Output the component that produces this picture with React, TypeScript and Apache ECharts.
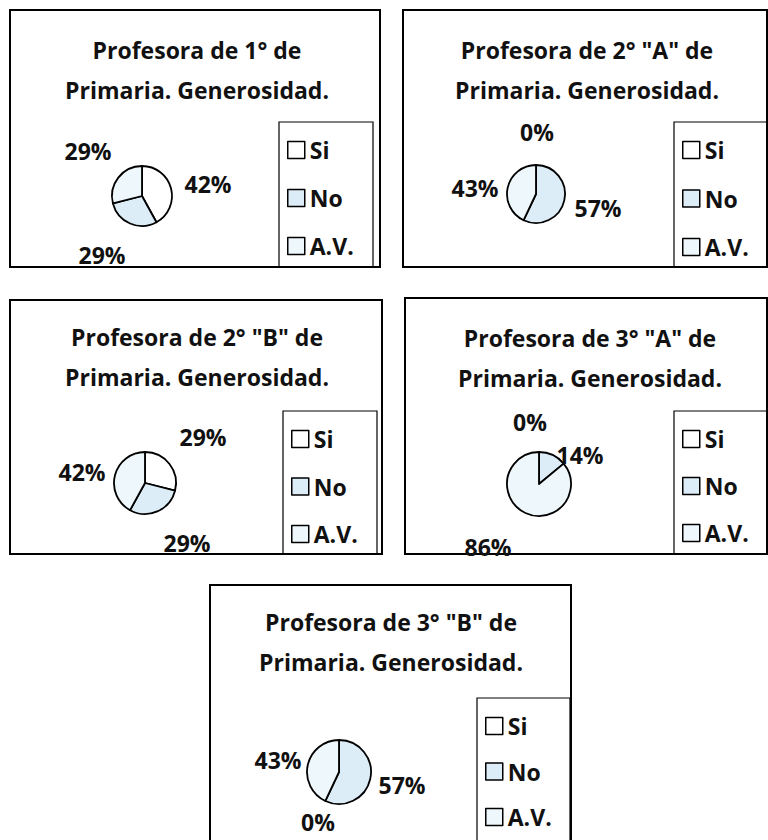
import React, { useEffect, useRef } from 'react';
import * as echarts from 'echarts';

// ---- data ----
const categories = ['Si', 'No', 'A.V.'];
const titles = [
  'Profesora de 1° de\nPrimaria. Generosidad.',
  'Profesora de 2° "A" de\nPrimaria. Generosidad.',
  'Profesora de 2° "B" de\nPrimaria. Generosidad.',
  'Profesora de 3° "A" de\nPrimaria. Generosidad.',
  'Profesora de 3° "B" de\nPrimaria. Generosidad.',
];
const valuesP1 = [42, 29, 29];
const valuesP2 = [0, 57, 43];
const valuesP3 = [29, 29, 42];
const valuesP4 = [0, 14, 86];
const valuesP5 = [0, 57, 43];
const allValues = [valuesP1, valuesP2, valuesP3, valuesP4, valuesP5];

// ---- style / layout ----
const sliceColors = ['#ffffff', '#dcedf7', '#eef7fb'];
const FONT = 'Open Sans';
const FS = 23;

const panels = [
  { box: [10, 10, 370, 257], title: [197, 50], center: [142, 196], r: 30, legend: [279, 122, 94, 145], gap: 25, offs: [[66, -12], [-40, 59], [-54, -45]] },
  { box: [403, 10, 364, 257], title: [587, 50], center: [536, 194], r: 29, legend: [674, 122, 93, 145], gap: 25.5, offs: [[1, -62], [62, 14], [-61, -6]] },
  { box: [10, 300, 372, 254], title: [197, 337], center: [145, 483], r: 31, legend: [283, 411, 94, 143], gap: 24.5, offs: [[58, -46], [42, 60], [-63, -11]] },
  { box: [405, 298, 362, 256], title: [590, 338], center: [539, 484], r: 32, legend: [674, 411, 93, 143], gap: 24, offs: [[-9, -62], [41, -29], [-51, 63]] },
  { box: [210, 585, 361, 270], title: [391, 622], center: [339, 772], r: 32, legend: [477, 698, 93, 160], gap: 22.5, offs: [[-21, 50], [63, 13], [-61, -12]] },
];

function buildOption() {
  const graphic: any[] = [];
  const title: any[] = [];
  const legend: any[] = [];
  const series: any[] = [];
  panels.forEach((p, i) => {
    graphic.push({
      type: 'rect', z: 0,
      shape: { x: p.box[0], y: p.box[1], width: p.box[2], height: p.box[3] },
      style: { fill: 'none', stroke: '#000', lineWidth: 2 },
    });
    graphic.push({
      type: 'rect', z: 0,
      shape: { x: p.legend[0], y: p.legend[1], width: p.legend[2], height: p.legend[3] },
      style: { fill: 'none', stroke: '#000', lineWidth: 1.2 },
    });
    title.push({
      text: titles[i],
      left: p.title[0],
      top: p.title[1] - 20,
      textAlign: 'center',
      padding: 0,
      textStyle: { fontFamily: FONT, fontSize: FS, fontWeight: 'bold', color: '#111', lineHeight: 40 },
    });
    legend.push({
      orient: 'vertical',
      left: p.legend[0] + 8,
      top: p.legend[1] + 16.5,
      padding: 0,
      itemGap: p.gap,
      itemWidth: 17,
      itemHeight: 17,
      icon: 'rect',
      selectedMode: false,
      data: categories,
      itemStyle: { borderColor: '#000', borderWidth: 1.5 },
      textStyle: { fontFamily: FONT, fontSize: FS, fontWeight: 'bold', color: '#111' },
    });
    const offs = p.offs;
    series.push({
      type: 'pie',
      center: p.center,
      radius: p.r,
      startAngle: 90,
      clockwise: true,
      silent: true,
      avoidLabelOverlap: false,
      emphasis: { disabled: true },
      data: categories.map((name, k) => ({ name, value: allValues[i][k], itemStyle: { color: sliceColors[k] } })),
      itemStyle: { borderColor: '#000', borderWidth: 1.8 },
      label: { show: true, position: 'center', formatter: '{c}%', fontFamily: FONT, fontSize: FS, fontWeight: 'bold', color: '#111' },
      labelLine: { show: false },
      labelLayout: (params: any) => {
        const lr = params.labelRect;
        const o = offs[params.dataIndex];
        return {
          x: lr.x + lr.width / 2 + o[0],
          y: lr.y + lr.height / 2 + o[1],
          align: 'center',
          verticalAlign: 'middle',
        };
      },
    });
  });
  return { animation: false, backgroundColor: '#fff', graphic, title, legend, series };
}

export default function App() {
  const ref = useRef<HTMLDivElement>(null);
  useEffect(() => {
    document.body.style.margin = '0';
    const chart = echarts.init(ref.current!, null, { renderer: 'svg' });
    chart.setOption(buildOption());
    return () => chart.dispose();
  }, []);
  return <div ref={ref} style={{ width: 768, height: 840 }} />;
}
